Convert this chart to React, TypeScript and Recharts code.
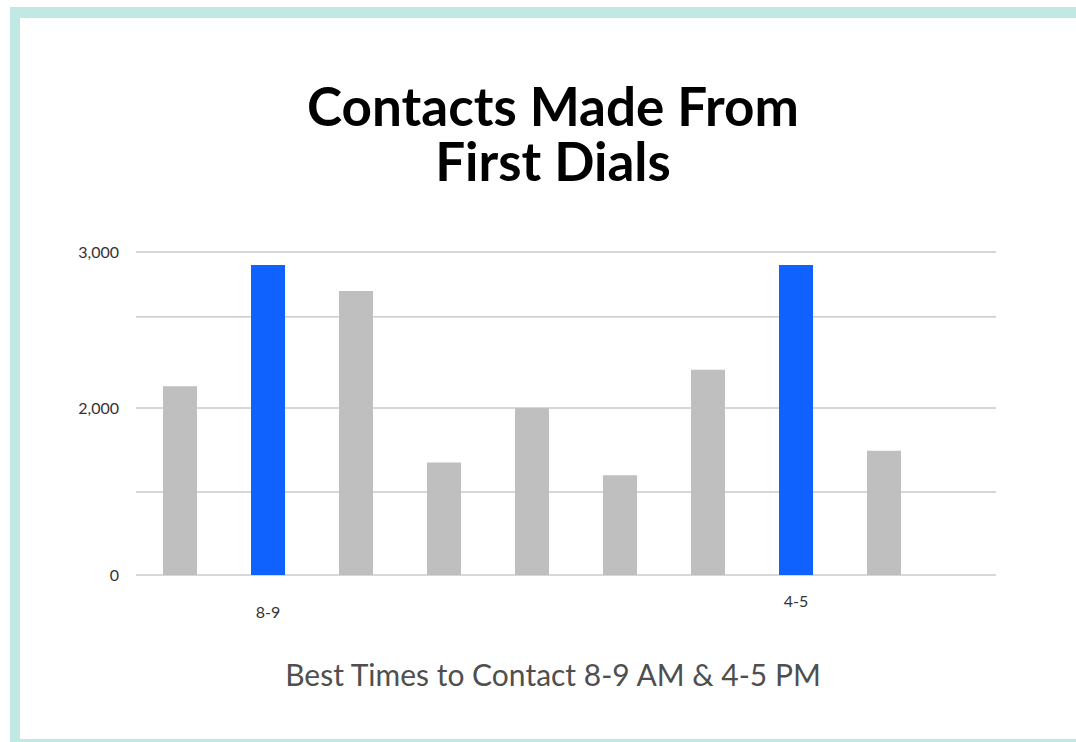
import { BarChart, Bar, XAxis, YAxis, CartesianGrid, Cell } from 'recharts';

// time slots along the x axis (only the two best ones are labelled in the source)
const slots = ['', '8-9', '', '', '', '', '', '4-5', ''];
const contacts = [2120, 2900, 2700, 1350, 2000, 1200, 2210, 2900, 1490];
const bestSlots = ['8-9', '4-5'];

const yTicks = [0, 1000, 2000, 2500, 3000];
const yTickLabels = ['0', '', '2,000', '', '3,000'];

const titleLines = ['Contacts Made From', 'First Dials'];

const data = slots.map((slot, i) => ({ slot, contacts: contacts[i] }));

// the source axis is stretched unevenly, so map values piecewise between ticks
const tickFractions = [0, 0.257, 0.517, 0.799, 1];

function stretchedScale(knots: number[], fracs: number[]): any {
  let dom = [knots[0], knots[knots.length - 1]];
  let rng = [0, 1];
  const scale: any = (v: any) => {
    const x = Number(v);
    let i = 0;
    while (i < knots.length - 2 && x > knots[i + 1]) i++;
    const t = (x - knots[i]) / (knots[i + 1] - knots[i]);
    const f = fracs[i] + t * (fracs[i + 1] - fracs[i]);
    return rng[0] + f * (rng[1] - rng[0]);
  };
  scale.domain = (d?: any[]) => {
    if (d === undefined) return dom.slice();
    dom = d.map(Number);
    return scale;
  };
  scale.range = (r?: any[]) => {
    if (r === undefined) return rng.slice();
    rng = r.map(Number);
    return scale;
  };
  scale.copy = () => stretchedScale(knots, fracs).domain(dom).range(rng);
  scale.ticks = () => knots.slice();
  scale.tickFormat = () => (v: any) => String(v);
  scale.nice = () => scale;
  scale.clamp = (c?: boolean) => (c === undefined ? false : scale);
  scale.invert = (p: number) => {
    const f = (p - rng[0]) / (rng[1] - rng[0]);
    let i = 0;
    while (i < fracs.length - 2 && f > fracs[i + 1]) i++;
    const t = (f - fracs[i]) / (fracs[i + 1] - fracs[i]);
    return knots[i] + t * (knots[i + 1] - knots[i]);
  };
  return scale;
}

const yScale = stretchedScale(yTicks, tickFractions);

const labelDrop: Record<string, number> = { '8-9': 43, '4-5': 32 };

function SlotTick(props: any) {
  const { x, y, payload } = props;
  const label = payload.value as string;
  if (!label) return null;
  return (
    <text x={x} y={y + (labelDrop[label] ?? 36)} textAnchor="middle" fontSize={16} fill="#333" fontFamily="Lato">
      {label}
    </text>
  );
}

export default function App() {
  return (
    <div style={{ position: 'absolute', left: 0, top: 0, width: 1076, height: 742, background: '#fff', overflow: 'hidden' }}>
      <div
        style={{
          position: 'absolute',
          left: 10,
          top: 7,
          width: 1100,
          height: 735,
          boxSizing: 'border-box',
          borderLeft: '10px solid #c0e9e3',
          borderTop: '11px solid #c0e9e3',
          borderBottom: '3px solid #c0e9e3',
        }}
      />
      {titleLines.map((line, i) => (
        <div
          key={line}
          style={{
            position: 'absolute',
            left: 0,
            top: 78 + i * 55,
            width: 1106,
            height: 55,
            textAlign: 'center',
            fontFamily: 'Lato',
            fontWeight: 700,
            fontSize: 53,
            lineHeight: '55px',
            color: '#000',
            whiteSpace: 'nowrap',
          }}
        >
          {line}
        </div>
      ))}
      <div style={{ position: 'absolute', left: 0, top: 0 }}>
        <BarChart
          width={1076}
          height={742}
          data={data}
          margin={{ top: 252, right: 80, bottom: 137, left: 36 }}
          barSize={34}
        >
          <CartesianGrid vertical={false} stroke="#b0b0b0" />
          <XAxis
            dataKey="slot"
            axisLine={false}
            tickLine={false}
            tickSize={0}
            tickMargin={0}
            height={30}
            padding={{ left: 0, right: 68 }}
            interval={0}
            tick={<SlotTick />}
          />
          <YAxis
            width={100}
            scale={yScale}
            domain={[0, 3000]}
            ticks={yTicks}
            axisLine={false}
            tickLine={false}
            tickSize={0}
            tickMargin={17}
            tickFormatter={(v: number) => yTickLabels[yTicks.indexOf(v)] ?? ''}
            tick={{ fontSize: 16, fill: '#333', fontFamily: 'Lato' }}
          />
          <Bar dataKey="contacts" isAnimationActive={false}>
            {data.map((d, i) => (
              <Cell key={i} fill={bestSlots.includes(d.slot) ? '#0f62fe' : '#bfbfbf'} />
            ))}
          </Bar>
        </BarChart>
      </div>
      <div
        style={{
          position: 'absolute',
          left: 0,
          top: 656,
          width: 1106,
          textAlign: 'center',
          fontFamily: 'Lato',
          fontSize: 30,
          lineHeight: 1.2,
          color: '#4f4f4f',
        }}
      >
        Best Times to Contact 8-9 AM &amp; 4-5 PM
      </div>
    </div>
  );
}
